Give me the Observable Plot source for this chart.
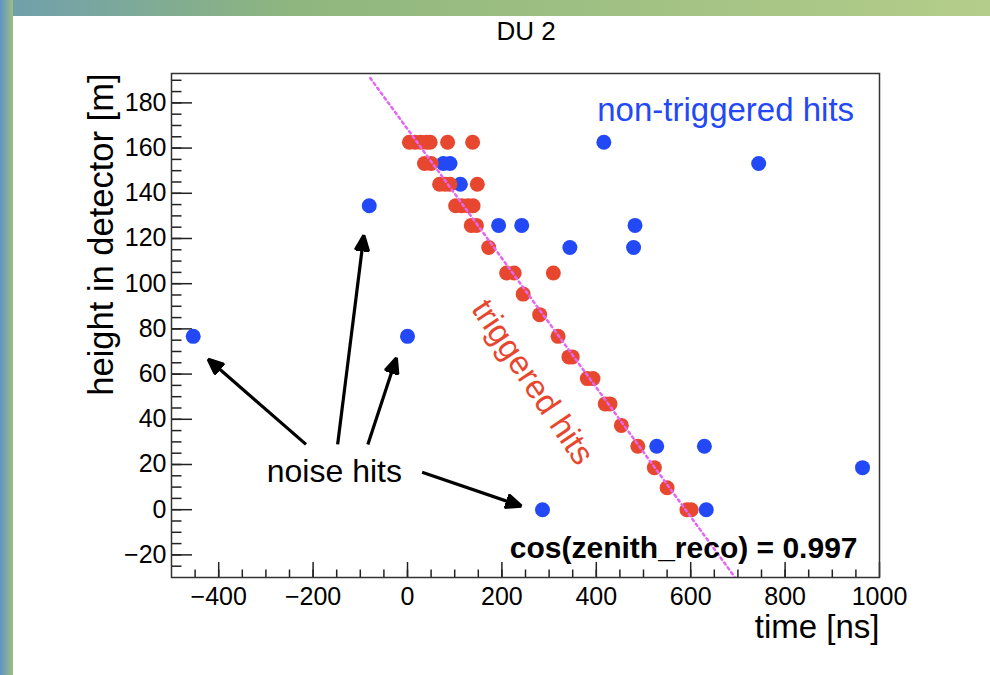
<!DOCTYPE html>
<html>
<head>
<meta charset="utf-8">
<script src="https://cdn.jsdelivr.net/npm/d3@7"></script>
<script src="https://cdn.jsdelivr.net/npm/@observablehq/plot@0.6"></script>
<style>
  html, body { margin: 0; padding: 0; background: #fff; }
  #page { position: relative; width: 990px; height: 675px; overflow: hidden; background: #fff; font-family: "Liberation Sans", Arial, sans-serif; }
  #topbar { position: absolute; left: 0; top: 0; width: 990px; height: 16px; background: linear-gradient(to right, #6f9fae, #8fb67e 30%, #b4cd8a); }
  #leftbar { position: absolute; left: 0; top: 0; width: 13px; height: 675px; background: linear-gradient(to right, #5f93c6, #9dbf80); }
  #title { position: absolute; left: 426px; width: 200px; top: 16px; text-align: center; font-size: 26px; color: #000; }
  #chart { position: absolute; left: 13px; top: 16px; }
</style>
</head>
<body>
<div id="page">
  <div id="topbar"></div>
  <div id="leftbar"></div>
  <div id="title">DU 2</div>
  <div id="chart"></div>
</div>
<script>
// Non-triggered hits (blue): time [ns], height [m]
const nonTrigTime   = [-454, -81, 0, 286, 416, 744, 482, 479, 344, 193, 242, 528, 629, 964, 633, 76, 90, 112];
const nonTrigHeight = [76.7, 134.5, 76.7, 0, 162.6, 153.2, 125.8, 116, 116, 125.8, 125.8, 28.1, 28.1, 18.6, 0, 153.2, 153.2, 144];

// Triggered hits (red)
const trigTime   = [4, 16, 28, 40, 48, 85, 138,
                    36, 50,
                    68, 80, 90, 148,
                    102, 115, 128, 139,
                    135, 146,
                    172,
                    210, 226, 309,
                    245,
                    280,
                    319,
                    342, 349,
                    381, 393,
                    419, 429,
                    453,
                    488,
                    523,
                    550,
                    592, 601];
const trigHeight = [162.6, 162.6, 162.6, 162.6, 162.6, 162.6, 162.6,
                    153.2, 153.2,
                    144, 144, 144, 144,
                    134.5, 134.5, 134.5, 134.5,
                    125.8, 125.8,
                    116,
                    104.7, 104.7, 104.7,
                    95.4,
                    86.3,
                    76.7,
                    67.6, 67.6,
                    58, 58,
                    46.8, 46.8,
                    37.3,
                    28.1,
                    18.6,
                    9.7,
                    0, 0];

// Reconstructed track (dotted line)
const fitTime   = [-79, 694];
const fitHeight = [191, -30];

// Noise-hit arrows: start (time, height) -> tip (time, height)
const arrowT1 = [-215, -148, -84, 31];
const arrowH1 = [28.9, 28.9, 28.9, 16.6];
const arrowT2 = [-419, -93, -25, 237];
const arrowH2 = [66, 120.5, 66.3, 1.9];

// Axis ticks
const xDomain = [-500, 1000];
const yDomain = [-30, 193];
const xMajorTicks = [-400, -200, 0, 200, 400, 600, 800, 1000];
const xTickLabels = ["\u2212400", "\u2212200", "0", "200", "400", "600", "800", "1000"];
const xMinorTicks = d3.range(-450, 1000, 50);
const yMajorTicks = [-20, 0, 20, 40, 60, 80, 100, 120, 140, 160, 180];
const yTickLabels = ["\u221220", "0", "20", "40", "60", "80", "100", "120", "140", "160", "180"];
const yMinorTicks = d3.range(-25, 193, 5);

// Annotation labels
const annotTexts = ["non-triggered hits", "triggered hits", "noise hits"];
const annotTime = [402, 265, -155];
const annotHeight = [176.5, 56.4, 16.8];

const blue = "#2348f5";
const red = "#e8472f";

const nonTrig = nonTrigTime.map((t, i) => ({t, h: nonTrigHeight[i]}));
const trig = trigTime.map((t, i) => ({t, h: trigHeight[i]}));
const fit = fitTime.map((t, i) => ({t, h: fitHeight[i]}));
const arrows = arrowT1.map((t, i) => ({t1: t, h1: arrowH1[i], t2: arrowT2[i], h2: arrowH2[i]}));
const annots = annotTexts.map((s, i) => ({s, t: annotTime[i], h: annotHeight[i]}));

// filled triangular arrow head
function filledHead(color, context) {
  const ns = "http://www.w3.org/2000/svg";
  const doc = (context && context.document) || document;
  const m = doc.createElementNS(ns, "marker");
  m.setAttribute("viewBox", "-14 -8 18 16");
  m.setAttribute("markerWidth", "18");
  m.setAttribute("markerHeight", "16");
  m.setAttribute("markerUnits", "userSpaceOnUse");
  m.setAttribute("orient", "auto");
  const p = doc.createElementNS(ns, "path");
  p.setAttribute("d", "M-13,-6.5L2,0L-13,6.5Z");
  p.setAttribute("fill", color);
  m.appendChild(p);
  return m;
}

const chart = Plot.plot({
  width: 977,
  height: 659,
  marginLeft: 158,
  marginRight: 111,
  marginTop: 57,
  marginBottom: 98,
  style: {fontFamily: "'Liberation Sans', Arial, sans-serif", background: "transparent", overflow: "visible"},
  x: {domain: xDomain},
  y: {domain: yDomain},
  marks: [
    // axis tick labels
    Plot.axisX({ticks: xMajorTicks, tickSize: 0, tickPadding: 10, fontSize: 25, fill: "#000",
      tickFormat: d => xTickLabels[xMajorTicks.indexOf(d)], label: null}),
    Plot.axisY({ticks: yMajorTicks, tickSize: 0, tickPadding: 5, fontSize: 25, fill: "#000",
      tickFormat: d => yTickLabels[yMajorTicks.indexOf(d)], label: null}),
    // inward ticks
    Plot.axisX({ticks: xMajorTicks, tickSize: -15, tickFormat: () => "", label: null, stroke: "#222", strokeWidth: 1.5}),
    Plot.axisX({ticks: xMinorTicks, tickSize: -7.5, tickFormat: () => "", label: null, stroke: "#222", strokeWidth: 1.5}),
    Plot.axisY({ticks: yMajorTicks, tickSize: -21, tickFormat: () => "", label: null, stroke: "#222", strokeWidth: 1.5}),
    Plot.axisY({ticks: yMinorTicks, tickSize: -10.5, tickFormat: () => "", label: null, stroke: "#222", strokeWidth: 1.5}),
    Plot.frame({stroke: "#333", strokeWidth: 1.5}),
    // hits
    Plot.dot(nonTrig, {x: "t", y: "h", r: 7.5, fill: blue, stroke: null}),
    Plot.dot(trig, {x: "t", y: "h", r: 7.5, fill: red, stroke: null}),
    // fitted track
    Plot.line(fit, {x: "t", y: "h", stroke: "#e466f4", strokeWidth: 2.5, strokeDasharray: "2.5,3.5", clip: true}),
    // arrows
    Plot.link(arrows, {x1: "t1", y1: "h1", x2: "t2", y2: "h2", stroke: "#000", strokeWidth: 3.2, markerEnd: filledHead}),
    // annotations
    Plot.text(annots.slice(0, 1), {x: "t", y: "h", text: "s", fill: blue, fontSize: 33, textAnchor: "start"}),
    Plot.text(annots.slice(1, 2), {x: "t", y: "h", text: "s", fill: red, fontSize: 33, rotate: 56}),
    Plot.text(annots.slice(2, 3), {x: "t", y: "h", text: "s", fill: "#000", fontSize: 32}),
    Plot.text(["cos(zenith_reco) = 0.997"], {frameAnchor: "bottom-right", text: d => d, fontSize: 30, fontWeight: "bold", fill: "#000", textAnchor: "end", lineAnchor: "middle", dx: -22, dy: -29}),
    // axis titles
    Plot.text(["time [ns]"], {frameAnchor: "bottom-right", text: d => d, fontSize: 33, fill: "#000", textAnchor: "end", lineAnchor: "middle", dy: 50}),
    Plot.text(["height in detector [m]"], {frameAnchor: "top-left", text: d => d, fontSize: 34.5, fill: "#000", textAnchor: "end", lineAnchor: "middle", rotate: -90, dx: -70})
  ]
});
document.getElementById("chart").appendChild(chart);
</script>
</body>
</html>
